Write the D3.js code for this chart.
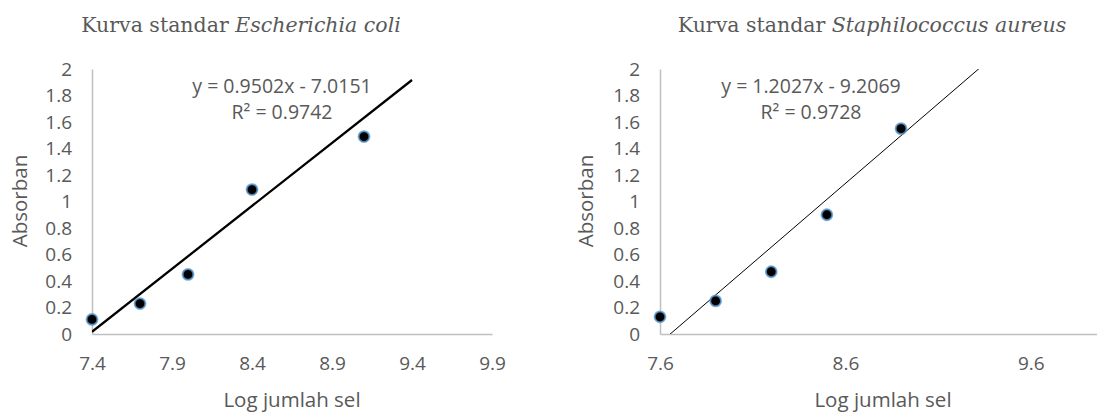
<!DOCTYPE html>
<html>
<head>
<meta charset="utf-8">
<script src="https://cdn.jsdelivr.net/npm/d3@7"></script>
<style>
  html, body { margin: 0; padding: 0; background: #fff; }
  svg { display: block; }
</style>
</head>
<body>
<svg id="chart" width="1097" height="412"></svg>
<script>
// ---- data ----
const ecoliX = [7.4, 7.7, 8.0, 8.4, 9.1];
const ecoliY = [0.11, 0.23, 0.45, 1.09, 1.49];
const staphX = [7.6, 7.9, 8.2, 8.5, 8.9];
const staphY = [0.13, 0.25, 0.47, 0.9, 1.55];

const yTicks = [0, 0.2, 0.4, 0.6, 0.8, 1, 1.2, 1.4, 1.6, 1.8, 2];
const ecoliXTicks = [7.4, 7.9, 8.4, 8.9, 9.4, 9.9];
const staphXTicks = [7.6, 8.6, 9.6];

const ecoliTrend = { slope: 0.9502, intercept: -7.0151, from: 7.4, to: 9.4 };
const staphTrend = { slope: 1.2027, intercept: -9.2069, from: 7.6, to: 9.4 };

const ecoliEq = ["y = 0.9502x - 7.0151", "R² = 0.9742"];
const staphEq = ["y = 1.2027x - 9.2069", "R² = 0.9728"];

const titlePlain = "Kurva standar ";
const ecoliName = "Escherichia coli";
const staphName = "Staphilococcus aureus";
const xTitle = "Log jumlah sel";
const yTitle = "Absorban";

// ---- drawing ----
const svg = d3.select("#chart");
const textColor = "#595959";
const axisColor = "#bfbfbf";
const sans = "'Open Sans', 'Liberation Sans', sans-serif";
const serif = "'DejaVu Serif', 'Liberation Serif', serif";

function drawChart(cfg, idx) {
  const g = svg.append("g");
  const x = d3.scaleLinear().domain(cfg.xDomain).range([cfg.left, cfg.right]);
  const y = d3.scaleLinear().domain([0, 2]).range([334, 69]);

  // title
  const t = g.append("text")
    .attr("x", cfg.titleX).attr("y", 32)
    .attr("text-anchor", "middle")
    .attr("font-family", serif).attr("font-size", cfg.titleSize)
    .attr("fill", textColor);
  t.append("tspan").text(titlePlain);
  t.append("tspan").attr("font-style", "italic").text(cfg.name);

  // y axis
  const yAxis = d3.axisLeft(y).tickValues(yTicks).tickSize(0).tickPadding(20)
    .tickFormat(d => String(+d.toFixed(1)));
  const ya = g.append("g").attr("transform", `translate(${cfg.left},0)`).call(yAxis);
  ya.select(".domain").attr("stroke", axisColor).attr("stroke-width", 1.5);
  ya.selectAll("text").attr("font-family", sans).attr("font-size", 19)
    .attr("fill", textColor);

  // x axis
  const xAxis = d3.axisBottom(x).tickValues(cfg.xTicks).tickSize(0).tickPadding(23)
    .tickFormat(d => String(+d.toFixed(1)));
  const xa = g.append("g").attr("transform", `translate(0,${y(0)})`).call(xAxis);
  xa.select(".domain").attr("stroke", axisColor).attr("stroke-width", 1.5);
  xa.selectAll("text").attr("font-family", sans).attr("font-size", 19)
    .attr("fill", textColor);

  // axis titles
  g.append("text")
    .attr("x", cfg.xTitleX).attr("y", 407)
    .attr("text-anchor", "middle")
    .attr("font-family", sans).attr("font-size", 20.5).attr("fill", textColor)
    .text(xTitle);
  g.append("text")
    .attr("transform", `translate(${cfg.yTitleX},201) rotate(-90)`)
    .attr("text-anchor", "middle")
    .attr("font-family", sans).attr("font-size", 20.5).attr("fill", textColor)
    .text(yTitle);

  // clip for trendline
  const clipId = "clip" + idx;
  svg.append("clipPath").attr("id", clipId)
    .append("rect")
    .attr("x", cfg.left).attr("y", y(2))
    .attr("width", 2000).attr("height", y(0) - y(2));

  const tr = cfg.trend;
  const trendPts = [tr.from, tr.to].map(v => [v, tr.slope * v + tr.intercept]);
  g.append("path")
    .attr("clip-path", `url(#${clipId})`)
    .attr("d", d3.line().x(d => x(d[0])).y(d => y(d[1]))(trendPts))
    .attr("fill", "none").attr("stroke", "#000").attr("stroke-width", cfg.trendWidth);

  // points
  const pts = cfg.xs.map((v, i) => ({ x: v, y: cfg.ys[i] }));
  g.selectAll("circle.pt").data(pts).join("circle")
    .attr("class", "pt")
    .attr("cx", d => x(d.x)).attr("cy", d => y(d.y))
    .attr("r", 5.4)
    .attr("fill", "#000")
    .attr("stroke", "#5b9bd5").attr("stroke-width", 2).attr("stroke-opacity", 0.8);

  // equation
  g.append("text")
    .attr("x", cfg.eqX).attr("y", 93)
    .attr("text-anchor", "middle")
    .attr("font-family", sans).attr("font-size", 19.5).attr("fill", textColor)
    .text(cfg.eq[0]);
  g.append("text")
    .attr("x", cfg.eqX).attr("y", 119)
    .attr("text-anchor", "middle")
    .attr("font-family", sans).attr("font-size", 19.5).attr("fill", textColor)
    .text(cfg.eq[1]);
}

drawChart({
  name: ecoliName, xs: ecoliX, ys: ecoliY, xTicks: ecoliXTicks,
  xDomain: [7.4, 9.9], left: 92, right: 492,
  trend: ecoliTrend, trendWidth: 2.3, eq: ecoliEq, eqX: 282,
  titleX: 241, titleSize: 20.5, xTitleX: 292, yTitleX: 27
}, 0);

drawChart({
  name: staphName, xs: staphX, ys: staphY, xTicks: staphXTicks,
  xDomain: [7.6, 10.0], left: 660, right: 1105,
  trend: staphTrend, trendWidth: 1, eq: staphEq, eqX: 811,
  titleX: 872, titleSize: 20.5, xTitleX: 883, yTitleX: 593
}, 1);
</script>
</body>
</html>
